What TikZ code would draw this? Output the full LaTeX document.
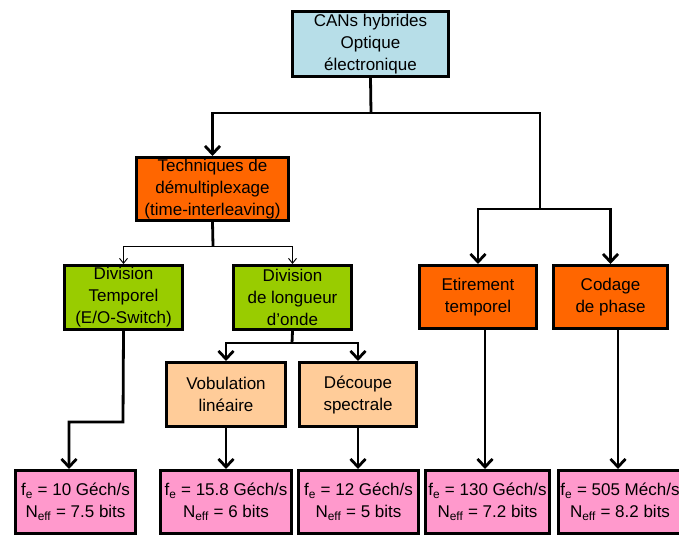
\documentclass[tikz,border=0pt]{standalone}
\usepackage{fontspec}
\setmainfont{Liberation Sans}
\usetikzlibrary{arrows.meta}

\definecolor{cblue}{HTML}{B7DEE8}
\definecolor{corange}{HTML}{FF6600}
\definecolor{cgreen}{HTML}{99CC00}
\definecolor{cpeach}{HTML}{FFCC99}
\definecolor{cpink}{HTML}{FF99CC}

\tikzset{
  box/.style={draw=black, line width=3pt, rectangle, inner sep=0pt, align=center,
    font=\fontsize{17}{22}\selectfont},
  conn/.style={draw=black, line width=2.8pt},
  arr/.style={conn, -{Straight Barb[length=8pt,width=15pt]}},
  thinarr/.style={draw=black, line width=0.9pt, -{Straight Barb[length=5pt,width=8pt]}},
}

\begin{document}
\begin{tikzpicture}[x=1pt, y=-1pt]
\clip (0,0) rectangle (679,536);
\useasboundingbox (0,0) rectangle (679,536);

% boxes
\node[box, fill=cblue, minimum width=156, minimum height=65] (top) at (370.5,44)
  {CANs hybrides\\Optique\\électronique};
\node[box, fill=corange, minimum width=152, minimum height=63] (tech) at (212.5,189)
  {Techniques de\\démultiplexage\\(time-interleaving)};
\node[box, fill=cgreen, minimum width=118, minimum height=64] (divt) at (123.5,297.5)
  {Division\\Temporel\\(E/O-Switch)};
\node[box, fill=cgreen, minimum width=118, minimum height=64] (divl) at (292.5,297.5)
  {Division\\de longueur\\d'onde};
\node[box, fill=corange, minimum width=117, minimum height=63] (etir) at (478,297)
  {Etirement\\temporel};
\node[box, fill=corange, minimum width=114, minimum height=63] (cod) at (610.5,297)
  {Codage\\de phase};
\node[box, fill=cpeach, minimum width=119, minimum height=64] (vob) at (226,394.5)
  {Vobulation\\linéaire};
\node[box, fill=cpeach, minimum width=117, minimum height=64] (dec) at (358,394.5)
  {Découpe\\spectrale};

\node[box, fill=cpink, minimum width=120, minimum height=63] (b1) at (75.5,502)
  {f\textsubscript{e} = 10 Géch/s\\N\textsubscript{eff} = 7.5 bits};
\node[box, fill=cpink, minimum width=131, minimum height=63] (b2) at (226,502)
  {f\textsubscript{e} = 15.8 Géch/s\\N\textsubscript{eff} = 6 bits};
\node[box, fill=cpink, minimum width=120, minimum height=63] (b3) at (358.5,502)
  {f\textsubscript{e} = 12 Géch/s\\N\textsubscript{eff} = 5 bits};
\node[box, fill=cpink, minimum width=124, minimum height=63] (b4) at (487.5,502)
  {f\textsubscript{e} = 130 Géch/s\\N\textsubscript{eff} = 7.2 bits};
\node[box, fill=cpink, minimum width=123, minimum height=63] (b5) at (620,502)
  {f\textsubscript{e} = 505 Méch/s\\N\textsubscript{eff} = 8.2 bits};

% junction points
\coordinate (j1) at (371,113);
\coordinate (j2) at (540,209);
\coordinate (j3) at (213,246);
\coordinate (j4) at (292,343);
\coordinate (j5) at (123,422);
\coordinate (j6) at (69,422);

% connectors
\draw[conn] (top.south) -- (j1);
\draw[arr] (j1) -| (tech.north);
\draw[conn] (j1) -| (j2);
\draw[arr] (j2) -| (etir.north);
\draw[arr] (j2) -| (cod.north);

\draw[conn] (tech.south) -- (j3);
\draw[thinarr] (j3) -| (divt.north);
\draw[thinarr] (j3) -| (divl.north);

\draw[conn] (divl.south) -- (j4);
\draw[arr] (j4) -| (vob.north);
\draw[arr] (j4) -| (dec.north);

\draw[arr] (divt.south) -- (j5) -- (j6) -- (j6 |- b1.north);
\draw[arr] (vob.south) -- (vob.south |- b2.north);
\draw[arr] (dec.south) -- (dec.south |- b3.north);
\draw[arr] ([xshift=7pt]etir.south) -- ([xshift=7pt]etir.south |- b4.north);
\draw[arr] ([xshift=7.5pt]cod.south) -- ([xshift=7.5pt]cod.south |- b5.north);
\end{tikzpicture}
\end{document}
